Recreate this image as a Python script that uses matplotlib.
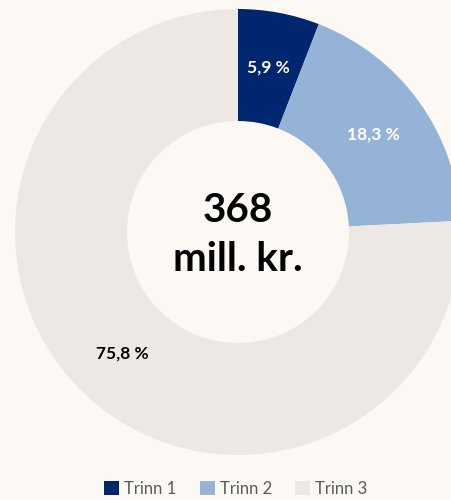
import matplotlib
matplotlib.use("Agg")
import matplotlib.pyplot as plt

labels = ["Trinn 1", "Trinn 2", "Trinn 3"]
shares = [5.9, 18.3, 75.8]
colors = ["#00266F", "#95B3D7", "#EEE8E5"]
pct_colors = ["white", "white", "black"]
center_text = "368\nmill. kr."

bg = "#FCF8F4"
plt.rcParams["font.family"] = ["Lato", "DejaVu Sans"]

fig = plt.figure(figsize=(4.51, 5.0), dpi=100, facecolor=bg)
ax = fig.add_axes([0, 0, 1, 1])
ax.set_facecolor(bg)

wedges, texts = ax.pie(
    shares, colors=colors, radius=223, center=(238, 268),
    startangle=90, counterclock=False,
    wedgeprops=dict(width=112, linewidth=0),
    labels=[f"{v:.1f} %".replace(".", ",") for v in shares],
    labeldistance=0.75, frame=True,
)
for t, c in zip(texts, pct_colors):
    t.set_color(c)
    t.set_fontsize(12.5)
    t.set_fontweight("bold")
    t.set_ha("center")
    t.set_va("center")
ax.set_xlim(0, 451)
ax.set_ylim(0, 500)
ax.set_aspect("equal")
ax.axis("off")

ax.text(238, 265, center_text, ha="center", va="center", fontsize=29,
        fontweight="bold", linespacing=1.4)

fig.legend(wedges, labels, loc="center", bbox_to_anchor=(236 / 451, 1 - 489 / 500),
           ncol=3, frameon=False, handlelength=0.9, handleheight=0.9,
           handletextpad=0.3, columnspacing=1.4, labelcolor="#595959", fontsize=12)

fig.savefig("out.png", dpi=100, facecolor=bg)
